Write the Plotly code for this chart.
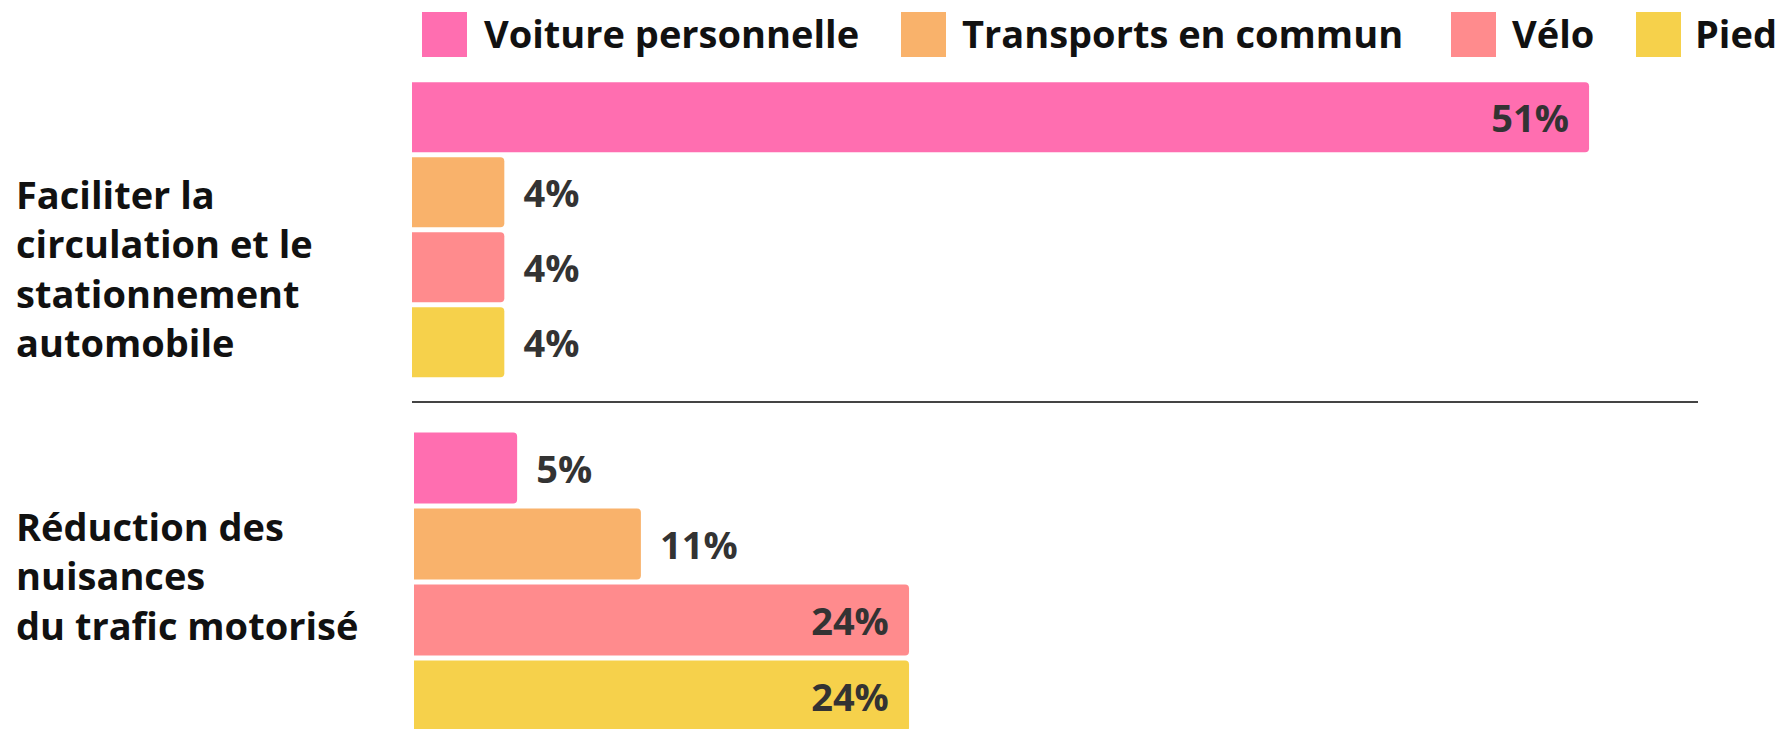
import plotly.graph_objects as go

# ---------------- data ----------------
modes = ["Voiture personnelle", "Transports en commun", "Vélo", "Pied"]
colors = ["#FF6EB0", "#F9B26B", "#FF8B8D", "#F6D14B"]
group_labels = [
    "Faciliter la<br>circulation et le<br>stationnement<br>automobile",
    "Réduction des<br>nuisances<br>du trafic motorisé",
]
values_circulation = [51, 4, 4, 4]
values_nuisances = [5, 11, 24, 24]

# ---------------- layout helpers ----------------
# page body adds an 8px offset, so the figure is sized to fit the window
OFF = 8
W, H = 1791 - OFF, 729 - OFF
ML, MR, MT, MB = 412 - OFF, 93, 0, 0
PW, PH = W - ML - MR, H - MT - MB


def px_x(x):
    return (x - OFF - ML) / PW


def px_y(y):
    return 1 - (y - OFF - MT) / PH


FONT = "Open Sans, Lato, Arial, sans-serif"
fig = go.Figure()

groups = [("y", "x", values_circulation, "g1"), ("y2", "x2", values_nuisances, "g2")]
for yax, xax, vals, key in groups:
    for i, (m, c) in enumerate(zip(modes, colors)):
        v = vals[i]
        inside = v >= 20
        fig.add_trace(go.Bar(
            y=[key], x=[v], orientation="h", name=m,
            marker=dict(color=c, line=dict(width=0)),
            xaxis=xax, yaxis=yax, showlegend=False,
            texttemplate=("%{x}%\u00a0\u2009" if inside else "\u00a0\u2009%{x}%"),
            textposition="inside" if inside else "outside",
            insidetextanchor="end",
            textangle=0,
            constraintext="none",
            cliponaxis=False,
            textfont=dict(family=FONT, size=38, color="#333333", weight=700),
            hoverinfo="skip",
        ))

annotations = []
label_y = [268, 575]
for lab, yc in zip(group_labels, label_y):
    annotations.append(dict(
        text=lab, xref="paper", yref="paper", x=px_x(14), y=px_y(yc),
        xanchor="left", yanchor="middle", align="left", showarrow=False,
        font=dict(family=FONT, size=38, color="#111111", weight=700),
    ))

# custom legend (large swatches)
legend_sq_x = [422, 901, 1451, 1636]
legend_txt_x = [482, 960, 1510, 1693]
shapes = []
for m, c, sx, tx in zip(modes, colors, legend_sq_x, legend_txt_x):
    shapes.append(dict(type="rect", xref="paper", yref="paper",
                       x0=px_x(sx), x1=px_x(sx + 45), y0=px_y(57), y1=px_y(12),
                       fillcolor=c, line=dict(width=0)))
    annotations.append(dict(
        text=m, xref="paper", yref="paper", x=px_x(tx), y=px_y(33),
        xanchor="left", yanchor="middle", showarrow=False,
        font=dict(family=FONT, size=38, color="#111111", weight=700),
    ))

fig.update_layout(
    width=W, height=H,
    margin=dict(l=ML, r=MR, t=MT, b=MB, pad=0),
    paper_bgcolor="white", plot_bgcolor="white",
    barmode="group", bargap=0, bargroupgap=0.0667, barcornerradius=4,
    showlegend=False,
    xaxis=dict(domain=[0, 1], range=[0, 55.72], showgrid=False, zeroline=False,
               showticklabels=False, ticks="", showline=True, linewidth=2,
               linecolor="#444444", anchor="y", fixedrange=True),
    yaxis=dict(domain=[px_y(401), px_y(79.7)], range=[0.571, -0.5],
               showgrid=False, zeroline=False, showticklabels=False, ticks="",
               anchor="x", fixedrange=True),
    xaxis2=dict(domain=[0, 1], range=[-0.097, 62.25], showgrid=False, zeroline=False,
                showticklabels=False, ticks="", showline=False, anchor="y2",
                fixedrange=True),
    yaxis2=dict(domain=[0, px_y(430)], range=[0.4836, -0.5],
                showgrid=False, zeroline=False, showticklabels=False, ticks="",
                anchor="x2", fixedrange=True),
    annotations=annotations,
    shapes=shapes,
)

fig.write_html("out.html")
